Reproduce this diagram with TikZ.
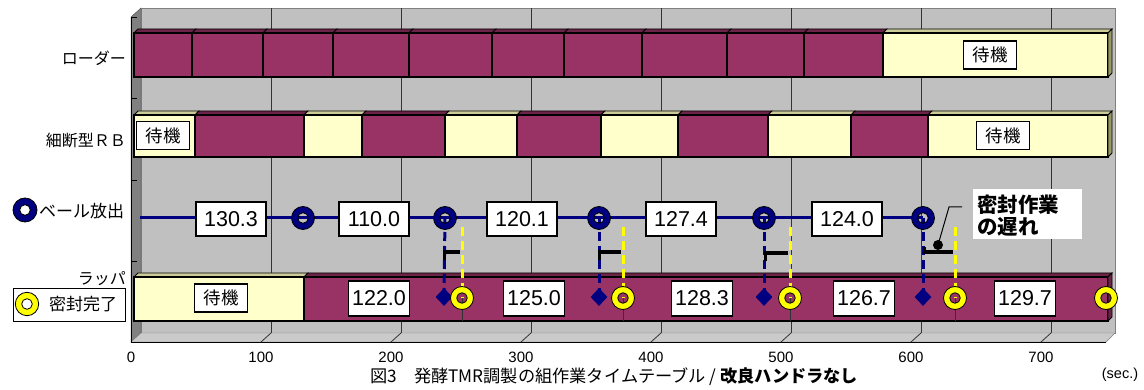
\documentclass[tikz,border=0pt]{standalone}
\usepackage{fontspec}
\setmainfont{Liberation Sans}
\newfontfamily\jp{Noto Sans CJK JP}
\usetikzlibrary{shapes.geometric}
\definecolor{plum}{HTML}{993366}
\definecolor{plumtop}{HTML}{6B2347}
\definecolor{cream}{HTML}{FFFFCC}
\definecolor{creamtop}{HTML}{CCCC99}
\definecolor{creamside}{HTML}{999966}
\definecolor{wall}{HTML}{C0C0C0}
\definecolor{lwall}{HTML}{808080}
\definecolor{floorc}{HTML}{CACACA}
\definecolor{navyc}{HTML}{000080}
\definecolor{yel}{HTML}{FFFF00}
\newcommand\barseg[5]{%
  \filldraw[fill=#5top, draw=black, line width=0.8] (#1,#3) -- (#1+4,#3-4) -- (#2+4,#3-4) -- (#2,#3) -- cycle;
  \filldraw[fill=#5, draw=black, line width=1.2] (#1,#3) rectangle (#2,#4);}
\newcommand\ringmark[5]{%
  \coordinate (#1) at (#2,#3);
  \fill[#4, even odd rule] (#1) circle[radius=#5] circle[radius=5.3];
  \draw[black, line width=0.8] (#1) circle[radius=#5] circle[radius=5.3];}
\tikzset{
  valbox/.style={draw=black, fill=white, line width=1.1, minimum width=70, minimum height=34, font=\fontsize{21.5}{21.5}\selectfont},
  wvalbox/.style={valbox, minimum width=61, minimum height=35},
  waitbox/.style={draw=black, fill=white, line width=1.1, minimum width=53, minimum height=28, font=\jp\fontsize{17.5}{17.5}\selectfont},
  rowlabel/.style={anchor=east, font=\jp\fontsize{16}{16}\selectfont},
  navydash/.style={navyc, line width=3, dash pattern=on 9 off 5},
  yeldash/.style={yel, line width=3, dash pattern=on 9 off 5},
  bracketbar/.style={black, line width=4},
  dropline/.style={black!80, line width=0.8},
  mdiamond/.style={diamond, fill=navyc, minimum width=17, minimum height=18, inner sep=0}
}
\begin{document}
\begin{tikzpicture}[x=1pt,y=-1pt, every node/.style={inner sep=0pt}]
\useasboundingbox (0,0) rectangle (1144,390);
\fill[white] (0,0) rectangle (1144,390);
% back wall
\filldraw[fill=wall, draw=gray] (141,8) rectangle (1115,333);
\foreach \t in {100,200,...,700}
  \draw[black!80, line width=0.8] (141+1.3*\t,8) -- (141+1.3*\t,333);
% left wall
\filldraw[fill=lwall, draw=black!70] (131,17) -- (141,8) -- (141,333) -- (131,342) -- cycle;
% floor
\filldraw[fill=floorc, draw=gray] (131,342) -- (141,333) -- (1115,333) -- (1106,342) -- cycle;
\draw[black, line width=1] (131,342) -- (1106,342);
\draw[black, line width=1] (131,17) -- (131,342);
\foreach \t in {100,200,...,700}
  \draw[black!80, line width=0.8] (131+1.3*\t,342) -- (141+1.3*\t,333);
\foreach \y in {17,98,180,261}
  \draw[black, line width=0.8] (131,\y) -- (137,\y);
% axis labels
\foreach \t in {0,100,...,700}
  \node[font=\fontsize{15}{15}\selectfont] (ax\t) at (131+1.3*\t,357) {\t};
\node[font=\fontsize{14.5}{14.5}\selectfont] (sec) at (1120,375) {(sec.)};

% loader bar
\barseg{134}{192}{33}{77}{plum}
\barseg{192}{263}{33}{77}{plum}
\barseg{263}{333}{33}{77}{plum}
\barseg{333}{409}{33}{77}{plum}
\barseg{409}{492}{33}{77}{plum}
\barseg{492}{564}{33}{77}{plum}
\barseg{564}{642}{33}{77}{plum}
\barseg{642}{727}{33}{77}{plum}
\barseg{727}{804}{33}{77}{plum}
\barseg{804}{883}{33}{77}{plum}
\barseg{883}{1108}{33}{77}{cream}
\filldraw[fill=creamside, draw=black, line width=0.8] (1108,33) -- (1112,29) -- (1112,73) -- (1108,77) -- cycle;
\node[waitbox] (w1) at (990,55) {待機};
% RB bar
\barseg{134}{195}{115}{157}{cream}
\barseg{195}{304}{115}{157}{plum}
\barseg{304}{362}{115}{157}{cream}
\barseg{362}{445}{115}{157}{plum}
\barseg{445}{517}{115}{157}{cream}
\barseg{517}{601}{115}{157}{plum}
\barseg{601}{678}{115}{157}{cream}
\barseg{678}{768}{115}{157}{plum}
\barseg{768}{851}{115}{157}{cream}
\barseg{851}{928}{115}{157}{plum}
\barseg{928}{1108}{115}{157}{cream}
\filldraw[fill=creamside, draw=black, line width=0.8] (1108,115) -- (1112,111) -- (1112,153) -- (1108,157) -- cycle;
\node[waitbox] (w2) at (163,135.5) {待機};
\node[waitbox] (w3) at (1003,135.5) {待機};
% wrapper bar
\barseg{134}{304}{277}{321}{cream}
\barseg{304}{1108}{277}{321}{plum}
\filldraw[fill=plumtop, draw=black, line width=0.8] (1108,277) -- (1112,273) -- (1112,317) -- (1108,321) -- cycle;
\node[waitbox] (w4) at (221,298) {待機};

% bale release line
\coordinate (ls) at (140,218);
\coordinate (b1) at (303,218);
\coordinate (b2) at (445,218);
\coordinate (b3) at (599,218);
\coordinate (b4) at (764,218);
\coordinate (b5) at (923,218);
\draw[navyc, line width=3] (ls) -- (b5);
\node[valbox] (v1) at (231,219) {130.3};
\node[valbox] (v2) at (374,219) {110.0};
\node[valbox] (v3) at (522,219) {120.1};
\node[valbox] (v4) at (681,219) {127.4};
\node[valbox] (v5) at (847,219) {124.0};

% diamonds
\node[mdiamond] (d2) at (444,297) {};
\node[mdiamond] (d3) at (599,297) {};
\node[mdiamond] (d4) at (764,297) {};
\node[mdiamond] (d5) at (923,297) {};
\draw[navydash] (b2) -- (d2.center);
\draw[navydash] (b3) -- (d3.center);
\draw[navydash] (b4) -- (d4.center);
\draw[navydash] (b5) -- (d5.center);

% yellow markers positions
\coordinate (y1) at (462,298);
\coordinate (y2) at (623,298);
\coordinate (y3) at (790,298);
\coordinate (y4) at (955,298);
\coordinate (yt1) at (462,227);
\coordinate (yt2) at (623,227);
\coordinate (yt3) at (790,227);
\coordinate (yt4) at (955,227);
\coordinate (yb1) at (462,321);
\coordinate (yb2) at (623,321);
\coordinate (yb3) at (790,321);
\coordinate (yb4) at (955,321);
\draw[dropline] (y1) -- (yb1);
\draw[dropline] (y2) -- (yb2);
\draw[dropline] (y3) -- (yb3);
\draw[dropline] (y4) -- (yb4);
\draw[yeldash] (yt1) -- (y1);
\draw[yeldash] (yt2) -- (y2);
\draw[yeldash] (yt3) -- (y3);
\draw[yeldash] (yt4) -- (y4);

% delay brackets
\coordinate (k1a) at (443,252); \coordinate (k1b) at (460,252);
\coordinate (k2a) at (598,252); \coordinate (k2b) at (621,252);
\coordinate (k3a) at (764,253); \coordinate (k3b) at (788,253);
\coordinate (k4a) at (923,252); \coordinate (k4b) at (953,252);
\draw[bracketbar] (k1a) -- (k1b);
\draw[bracketbar] (k2a) -- (k2b);
\draw[bracketbar] (k3a) -- (k3b);
\draw[bracketbar] (k4a) -- (k4b);
\draw[black, line width=3] ([xshift=1.5]k1a) -- ++(0,8);
\draw[black, line width=3] ([xshift=1.5]k2a) -- ++(0,8);
\draw[black, line width=3] ([xshift=1.5]k3a) -- ++(0,8);
\draw[black, line width=3] ([xshift=1.5]k4a) -- ++(0,-5);

% wrapper values
\node[wvalbox] (u1) at (379,298.5) {122.0};
\node[wvalbox] (u2) at (534,298.5) {125.0};
\node[wvalbox] (u3) at (702,298.5) {128.3};
\node[wvalbox] (u4) at (864,298.5) {126.7};
\node[wvalbox] (u5) at (1025,298.5) {129.7};

% rings
\ringmark{r1}{303}{218}{navyc}{11.5}
\ringmark{r2}{445}{218}{navyc}{11.5}
\ringmark{r3}{599}{218}{navyc}{11.5}
\ringmark{r4}{764}{218}{navyc}{11.5}
\ringmark{r5}{923}{218}{navyc}{11.5}
\ringmark{q1}{462}{298}{yel}{11.5}
\ringmark{q2}{623}{298}{yel}{11.5}
\ringmark{q3}{790}{298}{yel}{11.5}
\ringmark{q4}{955}{298}{yel}{11.5}
\ringmark{q5}{1106}{298}{yel}{11.5}

% callout
\coordinate (cdot) at (938,245);
\coordinate (cbend) at (949,207);
\coordinate (cend) at (962,207);
\fill[black] (cdot) circle[radius=5];
\draw[black, line width=1] (cdot) -- (cbend) -- (cend);
\node[fill=white, minimum width=109, minimum height=50, anchor=north west] (callbox) at (973,189) {};
\node[anchor=west, align=left, font=\jp\bfseries\fontsize{20.5}{21.5}\selectfont] (calltext) at (977,215.5) {密封作業\\の遅れ};

% row labels
\node[rowlabel] (lloader) at (126,58) {ローダー};
\node[rowlabel] (lrb) at (126,140) {細断型ＲＢ};
\ringmark{legb}{25}{210}{navyc}{12}
\node[anchor=west, font=\jp\fontsize{17}{17}\selectfont] (lbale) at (39,211) {ベール放出};
\node[rowlabel] (lwrap) at (126,279) {ラッパ};
\node[draw=black, fill=white, line width=1.1, minimum width=112, minimum height=33, anchor=north west] (legbox) at (13,288) {};
\ringmark{legy}{27}{304}{yel}{11.7}
\node[anchor=west, font=\jp\fontsize{17}{17}\selectfont] (lseal) at (49,304) {密封完了};

% caption
\node[anchor=west, font=\jp\fontsize{17.2}{17.2}\selectfont] (cap) at (370,377) {図3　発酵TMR調製の組作業タイムテーブル / \textbf{改良ハンドラなし}};
\end{tikzpicture}
\end{document}
